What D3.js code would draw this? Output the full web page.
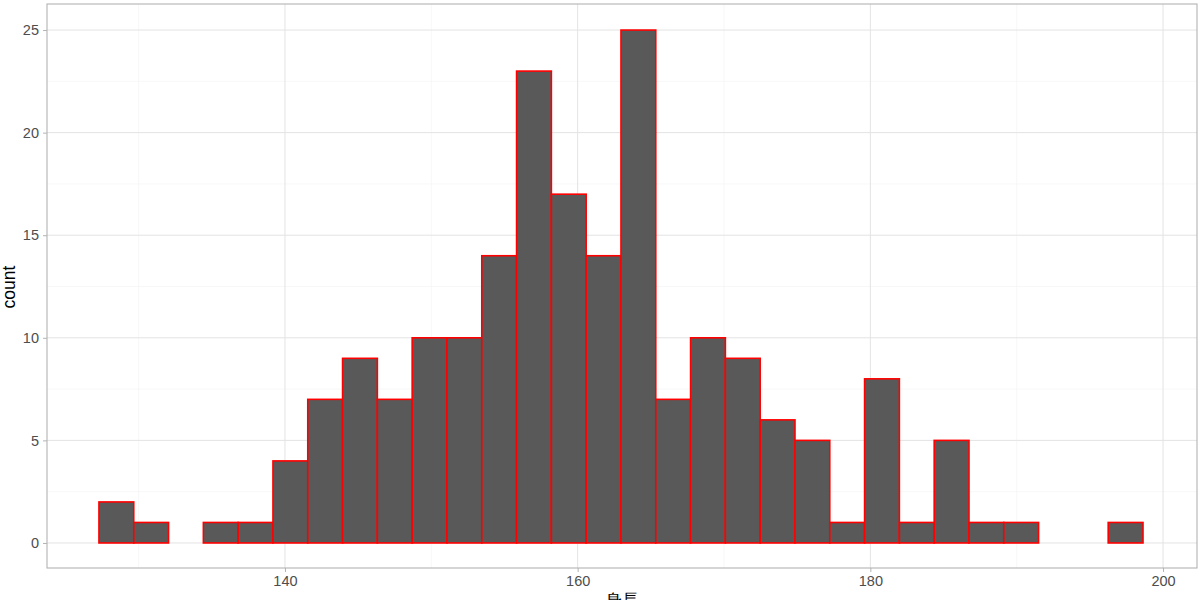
<!DOCTYPE html>
<html><head><meta charset="utf-8">
<script src="https://cdn.jsdelivr.net/npm/d3@7"></script>
<style>body{margin:0;background:#fff;} text{font-family:"Liberation Sans",Arial,sans-serif;}</style>
</head><body><svg id="c" width="1200" height="600"></svg>
<script>
const binStart = 127.29;
const binWidth = 2.378;
const counts = [2,1,0,1,1,4,7,9,7,10,10,14,23,17,14,25,7,10,9,6,5,1,8,1,5,1,1,0,0,1];
const xTicks = [140,160,180,200];
const xMinor = [130,150,170,190];
const yTicks = [0,5,10,15,20,25];
const yMinor = [2.5,7.5,12.5,17.5,22.5];
const xLabel = "身長";
const yLabel = "count";

const svg = d3.select("#c");
const L=47,R=1197,T=4,B=568;
const x = d3.scaleLinear().domain([123.74,202.32]).range([L,R]);
const y = d3.scaleLinear().domain([-1.22,26.27]).range([B,T]);

const g = svg.append("g");
xMinor.forEach(v=>g.append("line").attr("x1",x(v)).attr("x2",x(v)).attr("y1",T).attr("y2",B).attr("stroke","#f2f2f2").attr("stroke-width",0.6));
yMinor.forEach(v=>g.append("line").attr("y1",y(v)).attr("y2",y(v)).attr("x1",L).attr("x2",R).attr("stroke","#f2f2f2").attr("stroke-width",0.6));
xTicks.forEach(v=>g.append("line").attr("x1",x(v)).attr("x2",x(v)).attr("y1",T).attr("y2",B).attr("stroke","#e3e3e3").attr("stroke-width",1));
yTicks.forEach(v=>g.append("line").attr("y1",y(v)).attr("y2",y(v)).attr("x1",L).attr("x2",R).attr("stroke","#e3e3e3").attr("stroke-width",1));

g.selectAll("rect.bar").data(counts).enter().append("rect").attr("class","bar")
 .attr("x",(d,i)=>x(binStart+i*binWidth))
 .attr("width",x(binStart+binWidth)-x(binStart))
 .attr("y",d=>y(d)).attr("height",d=>y(0)-y(d))
 .attr("fill","#595959").attr("stroke",d=>d>0?"#ff0000":"none").attr("stroke-width",1.6);

svg.append("rect").attr("x",L).attr("y",T).attr("width",R-L).attr("height",B-T).attr("fill","none").attr("stroke","#b3b3b3").attr("stroke-width",1.1);

const xa = svg.append("g").attr("transform",`translate(0,${B})`).call(d3.axisBottom(x).tickValues(xTicks).tickSize(4).tickPadding(4));
const ya = svg.append("g").attr("transform",`translate(${L},0)`).call(d3.axisLeft(y).tickValues(yTicks).tickSize(4).tickPadding(4));
[xa,ya].forEach(a=>{a.select(".domain").remove();a.selectAll("line").attr("stroke","#b3b3b3");a.selectAll("text").attr("fill","#4d4d4d").attr("font-size",14.5).attr("font-family","Liberation Sans, Arial, sans-serif");});

svg.append("text").attr("x",622).attr("y",606).attr("text-anchor","middle").attr("font-size",17).attr("fill","#000").text(xLabel);
svg.append("text").attr("transform","translate(15,287) rotate(-90)").attr("text-anchor","middle").attr("font-size",17.5).attr("fill","#000").text(yLabel);
</script></body></html>
